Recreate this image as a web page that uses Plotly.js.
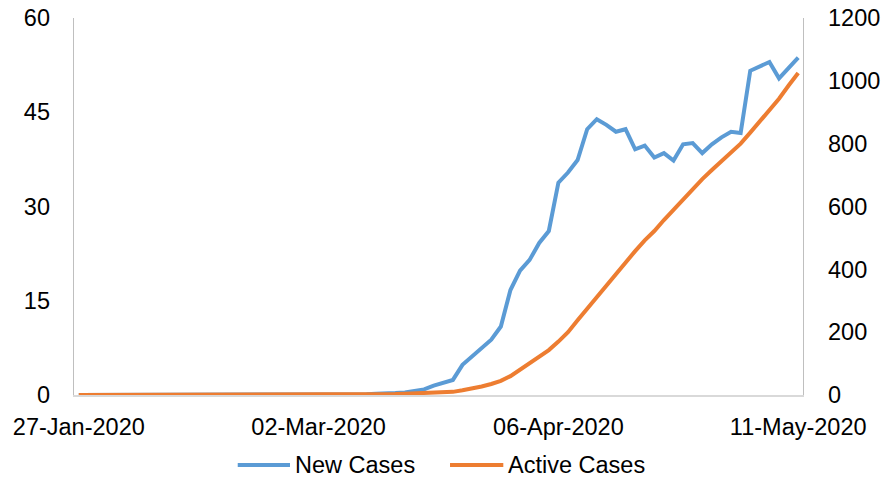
<!DOCTYPE html>
<html>
<head>
<meta charset="utf-8">
<script src="https://cdn.plot.ly/plotly-3.0.1.min.js"></script>
<style>
  html, body { margin: 0; padding: 0; background: #ffffff; }
  #chart { width: 881px; height: 483px; }
</style>
</head>
<body>
<div id="chart"></div>
<script>
// ---- data ----
const seriesNames = ['New Cases', 'Active Cases'];
const seriesColors = ['#5B9BD5', '#ED7D31'];

const xTickIndex = [0, 25, 50, 75];
const xTickLabels = ['27-Jan-2020', '02-Mar-2020', '06-Apr-2020', '11-May-2020'];

const newCases = [
  0, 0, 0, 0, 0, 0, 0, 0, 0, 0,
  0, 0, 0, 0, 0, 0, 0, 0, 0, 0,
  0, 0, 0, 0, 0, 0, 0, 0, 0, 0.1,
  0.1, 0.2, 0.2, 0.3, 0.4, 0.6, 0.9, 1.5, 2.0, 2.4,
  4.8, 6.1, 7.3, 8.8, 10.9, 16.7, 19.8, 21.5, 24.2, 26.1,
  33.8, 35.4, 37.4, 42.3, 43.9, 43.0, 41.9, 42.3, 39.1, 39.7,
  37.8, 38.5, 37.3, 39.9, 40.1, 38.5, 39.9, 41.0, 41.9, 41.7,
  51.6, 52.3, 53.0, 50.4, 52.1, 53.7
];

const activeCases = [
  0, 0, 0, 0, 0, 0, 0, 0, 0, 0,
  0, 0, 0, 0, 0, 0, 0, 0, 0, 0,
  0, 0, 0, 0, 0, 0, 0, 0, 1, 1,
  2, 2, 3, 3, 4, 5, 6, 7, 8, 10,
  15, 20, 27, 35, 45, 60, 80, 102, 122, 143,
  170, 200, 238, 275, 312, 349, 385, 422, 458, 492,
  522, 557, 590, 622, 654, 687, 716, 744, 772, 800,
  835, 870, 907, 943, 985, 1025
];

const leftTicks = [0, 15, 30, 45, 60];
const rightTicks = [0, 200, 400, 600, 800, 1000, 1200];

// ---- chart ----
const xIdx = newCases.map((_, i) => i);
const FONT = '"Liberation Sans", Arial, sans-serif';
const FS = 23.5;

const traces = [
  {
    x: xIdx, y: newCases, name: seriesNames[0], type: 'scatter', mode: 'lines',
    line: { color: seriesColors[0], width: 4 }, yaxis: 'y'
  },
  {
    x: xIdx, y: activeCases, name: seriesNames[1], type: 'scatter', mode: 'lines',
    line: { color: seriesColors[1], width: 4 }, yaxis: 'y2'
  }
];

// custom legend (paper coordinates)
const legY = -0.186;
const legendItems = [
  { x0: 0.2246, x1: 0.2963, tx: 0.3005 },
  { x0: 0.5158, x1: 0.5889, tx: 0.5926 }
];

const layout = {
  width: 881, height: 483,
  margin: { l: 74, r: 78, t: 18, b: 88 },
  paper_bgcolor: '#ffffff', plot_bgcolor: '#ffffff',
  showlegend: false,
  font: { family: FONT, size: FS, color: '#000000' },
  xaxis: {
    range: [-0.5, xIdx.length - 0.5],
    tickmode: 'array', tickvals: xTickIndex, ticktext: xTickLabels,
    showgrid: false, zeroline: false,
    showline: true, linecolor: '#D9D9D9', linewidth: 1.5,
    ticks: '', ticklabelstandoff: 10,
    tickfont: { family: FONT, size: FS, color: '#000000' }
  },
  yaxis: {
    range: [0, 60], tickmode: 'array', tickvals: leftTicks,
    showgrid: false, zeroline: false,
    showline: true, linecolor: '#BFBFBF', linewidth: 1.3,
    ticks: '', ticklabelstandoff: 18,
    tickfont: { family: FONT, size: FS, color: '#000000' }
  },
  yaxis2: {
    range: [0, 1200], tickmode: 'array', tickvals: rightTicks,
    overlaying: 'y', side: 'right',
    showgrid: false, zeroline: false,
    showline: true, linecolor: '#BFBFBF', linewidth: 1.3,
    ticks: '', ticklabelstandoff: 19,
    tickfont: { family: FONT, size: FS, color: '#000000' }
  },
  shapes: legendItems.map((it, k) => ({
    type: 'line', xref: 'paper', yref: 'paper',
    x0: it.x0, x1: it.x1, y0: legY, y1: legY,
    line: { color: seriesColors[k], width: 4 }
  })),
  annotations: legendItems.map((it, k) => ({
    xref: 'paper', yref: 'paper', x: it.tx, y: legY,
    xanchor: 'left', yanchor: 'middle', showarrow: false,
    text: seriesNames[k],
    font: { family: FONT, size: FS, color: '#000000' }
  }))
};

Plotly.newPlot('chart', traces, layout, { displayModeBar: false, staticPlot: true });
</script>
</body>
</html>
